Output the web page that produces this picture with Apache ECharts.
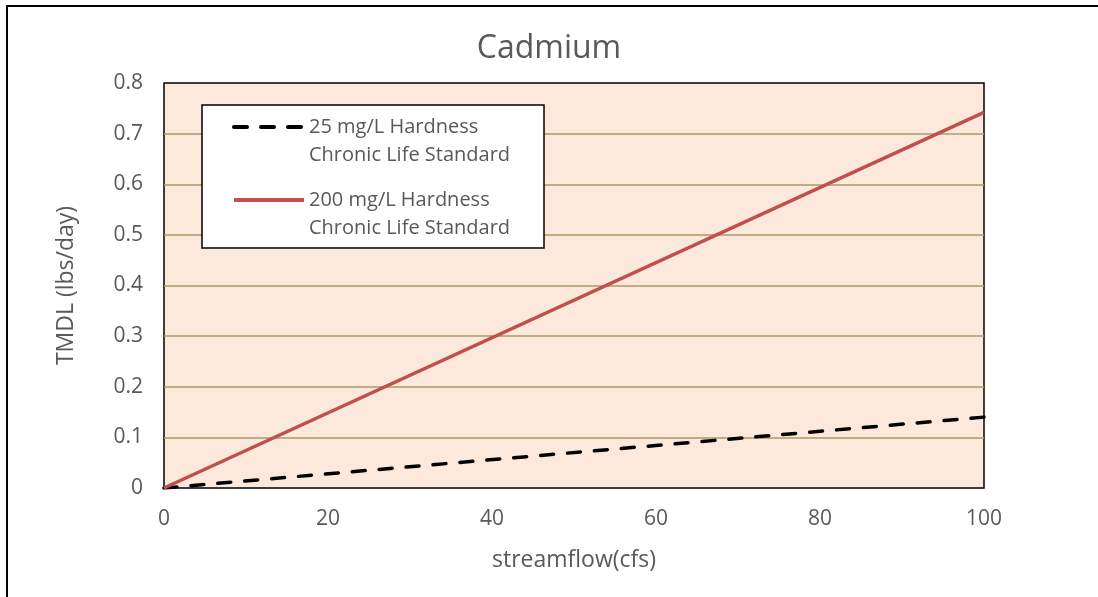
<!DOCTYPE html>
<html>
<head>
<meta charset="utf-8">
<style>
  html, body { margin: 0; padding: 0; background: #fff; }
  #chart { width: 1098px; height: 597px; }
</style>
<script src="https://cdn.jsdelivr.net/npm/echarts@6/dist/echarts.min.js"></script>
</head>
<body>
<div id="chart"></div>
<script>
// Streamflow (cfs) at the ends of each load line
const streamflow = [0, 100];
// TMDL (lbs/day) for each hardness standard
const hardness25 = [0, 0.14];
const hardness200 = [0, 0.742];
const seriesNames = [
  '25 mg/L Hardness\nChronic Life Standard',
  '200 mg/L Hardness\nChronic Life Standard'
];
const yTicks = [0, 0.1, 0.2, 0.3, 0.4, 0.5, 0.6, 0.7, 0.8];
const xTicks = [0, 20, 40, 60, 80, 100];

const font = '"Open Sans", "DejaVu Sans", sans-serif';
const textGrey = '#595959';

const pairs = (xs, ys) => xs.map((x, i) => [x, ys[i]]);

const chart = echarts.init(document.getElementById('chart'), null, { renderer: 'canvas' });
chart.setOption({
  animation: false,
  backgroundColor: '#ffffff',
  title: {
    text: 'Cadmium',
    left: 'center',
    top: 28,
    textStyle: { fontFamily: font, fontSize: 32, fontWeight: 'normal', color: textGrey }
  },
  grid: {
    left: 164, top: 83, right: 114, bottom: 109,
    show: true,
    backgroundColor: '#fde9dc',
    borderColor: '#000000',
    borderWidth: 1.5
  },
  xAxis: {
    type: 'value',
    min: xTicks[0], max: xTicks[xTicks.length - 1], interval: 20,
    name: 'streamflow(cfs)',
    nameLocation: 'middle',
    nameGap: 61,
    nameTextStyle: { fontFamily: font, fontSize: 23, color: textGrey },
    axisLine: { show: false },
    axisTick: { show: false },
    splitLine: { show: false },
    axisLabel: { margin: 21, fontFamily: font, fontSize: 21, color: textGrey }
  },
  yAxis: {
    type: 'value',
    min: yTicks[0], max: yTicks[yTicks.length - 1], interval: 0.1,
    name: 'TMDL (lbs/day)',
    nameLocation: 'middle',
    nameGap: 86,
    nameTextStyle: { fontFamily: font, fontSize: 23, color: textGrey },
    axisLine: { show: false },
    axisTick: { show: false },
    splitLine: {
      show: true, showMinLine: false, showMaxLine: false,
      lineStyle: { color: '#a99a6a', width: 1.5 }
    },
    axisLabel: { margin: 21, fontFamily: font, fontSize: 21, color: textGrey }
  },
  legend: {
    orient: 'vertical',
    left: 232,
    top: 85,
    padding: 0,
    itemWidth: 70,
    itemHeight: 14,
    itemGap: -11,
    z: 5,
    data: seriesNames,
    // leading blank line keeps the swatch level with the first text line
    formatter: name => '\n' + name,
    itemStyle: { opacity: 0 },
    lineStyle: { width: 4 },
    textStyle: { fontFamily: font, fontSize: 20, color: textGrey, lineHeight: 28 }
  },
  graphic: [
    {
      type: 'rect', z: 4,
      shape: { x: 202, y: 105, width: 342, height: 143 },
      style: { fill: '#ffffff', stroke: '#000000', lineWidth: 1.5 }
    },
    {
      type: 'polyline', z: 10,
      shape: { points: [[7, 597], [7, 6], [1098, 6]] },
      style: { fill: null, stroke: '#000000', lineWidth: 2 }
    }
  ],
  series: [
    {
      name: seriesNames[0],
      type: 'line',
      data: pairs(streamflow, hardness25),
      showSymbol: false,
      symbol: 'none',
      color: '#000000',
      lineStyle: { color: '#000000', width: 3.5, type: [13, 14], cap: 'round' },
      z: 3
    },
    {
      name: seriesNames[1],
      type: 'line',
      data: pairs(streamflow, hardness200),
      showSymbol: false,
      symbol: 'none',
      color: '#c0504d',
      lineStyle: { color: '#c0504d', width: 3.5 },
      z: 3
    }
  ]
});
</script>
</body>
</html>
